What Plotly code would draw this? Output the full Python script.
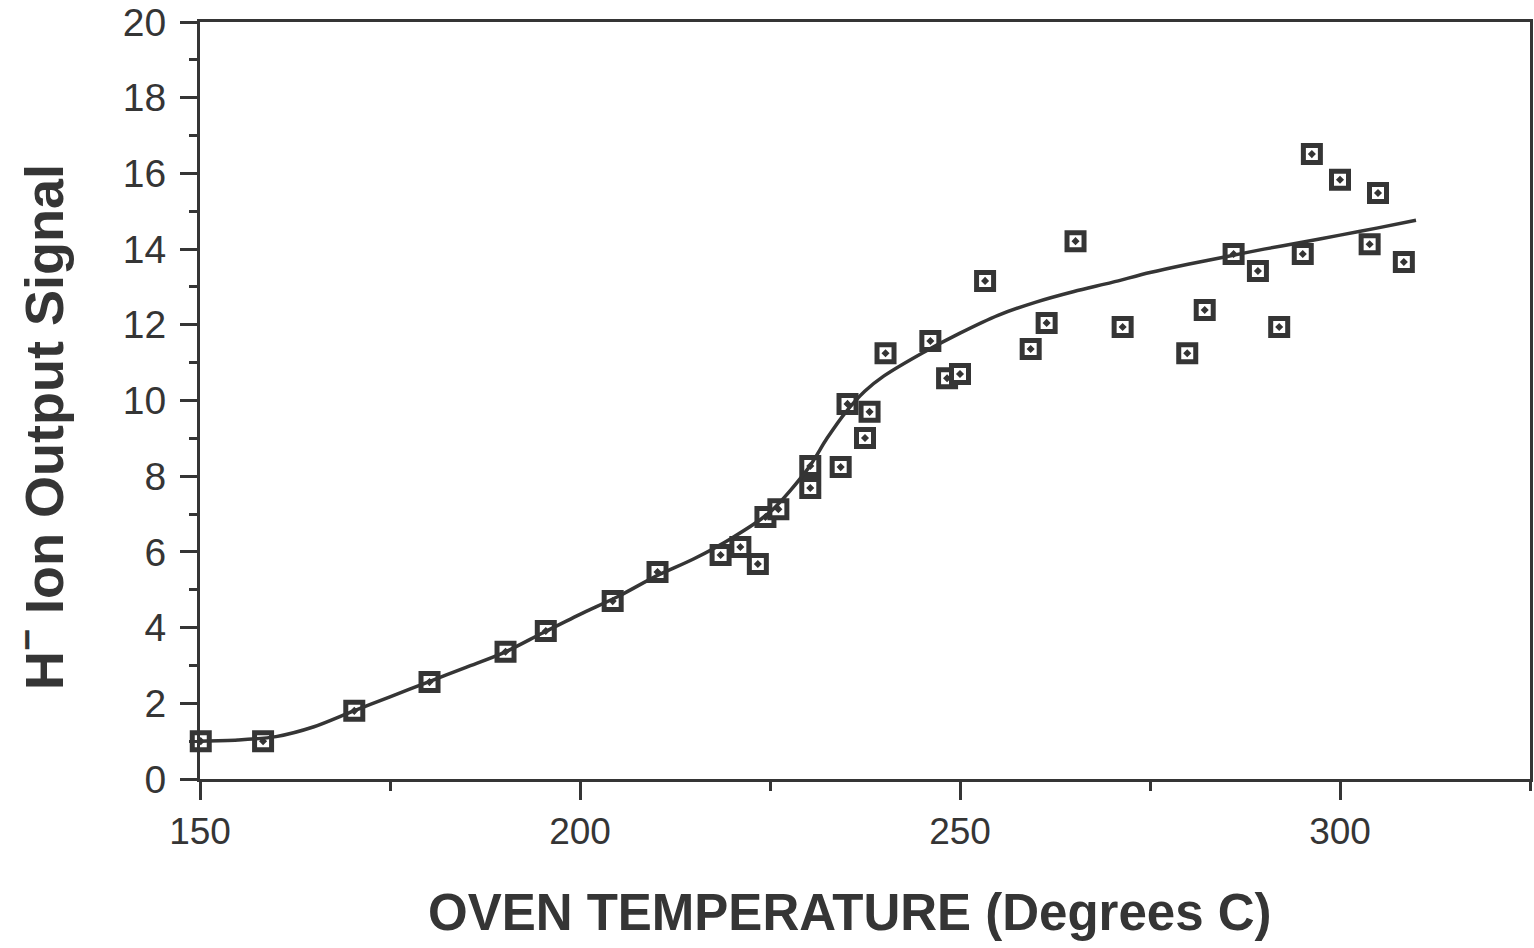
import plotly.graph_objects as go

# Measured data points (oven temperature, H- ion output signal)
temp_pts = [150.1, 158.3, 170.3, 180.2, 190.2, 195.5, 204.3, 210.2, 218.5, 221.1,
            223.4, 224.4, 226.1, 230.3, 230.3, 234.3, 235.2, 237.5, 238.1, 240.2,
            246.1, 248.3, 250.0, 253.3, 259.3, 261.4, 265.2, 271.4, 279.9, 282.2,
            286.0, 289.2, 292.0, 295.1, 296.3, 300.0, 303.9, 305.0, 308.4]
signal_pts = [1.00, 1.00, 1.80, 2.56, 3.36, 3.91, 4.70, 5.47, 5.92, 6.13,
              5.68, 6.92, 7.13, 8.27, 7.69, 8.24, 9.91, 9.01, 9.70, 11.25,
              11.57, 10.59, 10.70, 13.16, 11.36, 12.05, 14.21, 11.94, 11.25, 12.39,
              13.87, 13.42, 11.94, 13.87, 16.51, 15.83, 14.13, 15.48, 13.66]

# Fitted curve
temp_fit = [150, 155, 160, 165, 170, 175, 180, 185, 190, 195, 200, 205, 210, 215,
            220, 225, 230, 232.5, 235, 237.5, 240, 245, 250, 255, 260, 265, 270,
            275, 280, 285, 290, 295, 300, 305, 310]
signal_fit = [1.00, 1.03, 1.12, 1.38, 1.78, 2.17, 2.56, 2.95, 3.34, 3.85, 4.35, 4.82,
              5.36, 5.82, 6.37, 7.05, 8.20, 9.00, 9.70, 10.25, 10.65, 11.25, 11.78,
              12.25, 12.60, 12.88, 13.12, 13.38, 13.60, 13.80, 14.00, 14.18, 14.37,
              14.56, 14.76]

x_ticks = [150, 200, 250, 300]
y_ticks = [0, 2, 4, 6, 8, 10, 12, 14, 16, 18, 20]

x_title = "<b>OVEN TEMPERATURE (Degrees C)</b>"
y_title = "<b>H<sup>\u2212</sup> Ion Output Signal</b>"

INK = "#353535"

fig = go.Figure()
fig.add_trace(go.Scatter(
    x=temp_pts, y=signal_pts, mode="markers",
    marker=dict(symbol="square-dot", size=17, color="white",
                line=dict(color=INK, width=5)),
    showlegend=False, cliponaxis=False))
fig.add_trace(go.Scatter(
    x=temp_fit, y=signal_fit, mode="lines",
    line=dict(color=INK, width=3.5, shape="spline", smoothing=0.8),
    showlegend=False, cliponaxis=False))

fig.update_layout(
    width=1534, height=948,
    margin=dict(l=200, r=1, t=22, b=169),
    paper_bgcolor="white", plot_bgcolor="white",
    font=dict(family="Liberation Sans, Arial, sans-serif", color=INK),
    xaxis=dict(
        range=[150, 325], tickvals=x_ticks, ticktext=[str(v) for v in x_ticks],
        ticks="outside", ticklen=18, tickwidth=3, tickcolor=INK,
        minor=dict(tickvals=[175, 225, 275, 325], ticks="outside", ticklen=9,
                   tickwidth=3, tickcolor=INK),
        showline=True, linewidth=3, linecolor=INK, mirror=True,
        showgrid=False, zeroline=False,
        tickfont=dict(size=37, color=INK),
    ),
    yaxis=dict(
        range=[0, 20], tickvals=y_ticks, ticktext=[str(v) for v in y_ticks],
        ticks="outside", ticklen=17, tickwidth=3, tickcolor=INK,
        minor=dict(dtick=1, ticks="outside", ticklen=8, tickwidth=3, tickcolor=INK),
        showline=True, linewidth=3, linecolor=INK, mirror=True,
        showgrid=False, zeroline=False,
        tickfont=dict(size=39, color=INK),
        ticklabelstandoff=6,
    ),
    annotations=[
        dict(text=x_title, xref="paper", yref="paper", x=0.489, y=0,
             xanchor="center", yanchor="middle", yshift=-133, showarrow=False,
             font=dict(size=51, color=INK)),
        dict(text=y_title, xref="paper", yref="paper", x=0, y=0.465,
             xanchor="center", yanchor="middle", xshift=-160, showarrow=False,
             textangle=-90, font=dict(size=54, color=INK)),
    ],
)

fig.write_html("out.html")
